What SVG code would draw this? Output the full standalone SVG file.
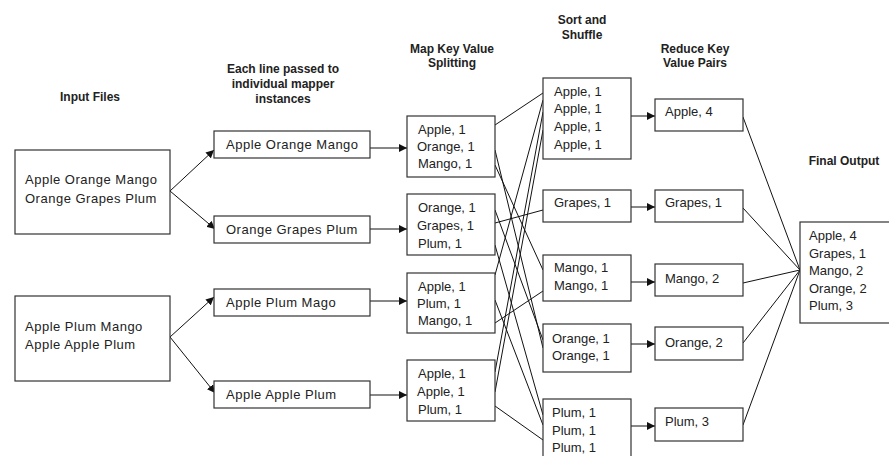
<svg xmlns="http://www.w3.org/2000/svg" width="889" height="456" viewBox="0 0 889 456">
<defs>
<marker id="ah" markerWidth="9" markerHeight="8" refX="8" refY="4" orient="auto" markerUnits="userSpaceOnUse">
<path d="M0,0 L8,4 L0,8 z" fill="#111"/>
</marker>
<style>
text{font-family:"Liberation Sans",Arial,sans-serif;fill:#222}
.t{font-size:13px}
.w{letter-spacing:0.5px}
.h{font-size:12px;font-weight:bold;text-anchor:middle}
rect{fill:#fff;stroke:#333;stroke-width:1.2}
.c line{stroke:#111;stroke-width:1}
.a{marker-end:url(#ah)}
</style>
</defs>
<rect x="0" y="0" width="889" height="456" style="stroke:none"/>
<g id="headers">
<text class="h" x="90" y="101">Input Files</text>
<text class="h" x="283" y="73">Each line passed to</text>
<text class="h" x="283" y="88">individual mapper</text>
<text class="h" x="283" y="103">instances</text>
<text class="h" x="452" y="53">Map Key Value</text>
<text class="h" x="452" y="67">Splitting</text>
<text class="h" x="582" y="24">Sort and</text>
<text class="h" x="582" y="39">Shuffle</text>
<text class="h" x="695" y="53">Reduce Key</text>
<text class="h" x="695" y="67">Value Pairs</text>
<text class="h" x="844" y="165">Final Output</text>
</g>
<g class="c" id="connectors">
<line class="a" x1="170" y1="191" x2="214" y2="150"/>
<line class="a" x1="170" y1="191" x2="215" y2="229"/>
<line class="a" x1="170" y1="337" x2="214" y2="297"/>
<line class="a" x1="170" y1="337" x2="215" y2="393"/>
<line class="a" x1="370" y1="148" x2="407" y2="148"/>
<line class="a" x1="370" y1="229" x2="407" y2="229"/>
<line class="a" x1="370" y1="301" x2="407" y2="301"/>
<line class="a" x1="370" y1="395" x2="407" y2="395"/>
<line x1="495" y1="125" x2="543" y2="93"/>
<line x1="495" y1="150" x2="543" y2="348"/>
<line x1="495" y1="165" x2="543" y2="270"/>
<line x1="495" y1="210" x2="543" y2="340"/>
<line x1="495" y1="223" x2="543" y2="210"/>
<line x1="495" y1="245" x2="543" y2="415"/>
<line x1="495" y1="275" x2="543" y2="100"/>
<line x1="495" y1="300" x2="543" y2="425"/>
<line x1="495" y1="323" x2="543" y2="291"/>
<line x1="495" y1="372" x2="543" y2="112"/>
<line x1="495" y1="392" x2="543" y2="130"/>
<line x1="495" y1="406" x2="543" y2="440"/>
<line class="a" x1="631" y1="116" x2="655" y2="116"/>
<line class="a" x1="631" y1="207" x2="655" y2="207"/>
<line class="a" x1="631" y1="282" x2="655" y2="282"/>
<line class="a" x1="631" y1="344" x2="655" y2="344"/>
<line class="a" x1="631" y1="426" x2="655" y2="426"/>
<line x1="743" y1="117" x2="800" y2="270"/>
<line x1="743" y1="208" x2="800" y2="270"/>
<line x1="743" y1="283" x2="800" y2="270"/>
<line x1="743" y1="343" x2="800" y2="270"/>
<line x1="743" y1="425" x2="800" y2="270"/>
</g>
<g id="input1"><rect x="15" y="150" width="155" height="84"/><text class="t w" x="25" y="184">Apple Orange Mango</text><text class="t w" x="25" y="203">Orange Grapes Plum</text></g>
<g id="input2"><rect x="15" y="296" width="155" height="85"/><text class="t w" x="25" y="331">Apple Plum Mango</text><text class="t w" x="25" y="349">Apple Apple Plum</text></g>
<g id="split1"><rect x="214" y="131" width="156" height="27"/><text class="t w" x="226" y="149">Apple Orange Mango</text></g>
<g id="split2"><rect x="214" y="216" width="156" height="27"/><text class="t w" x="226" y="234">Orange Grapes Plum</text></g>
<g id="split3"><rect x="214" y="289" width="156" height="27"/><text class="t w" x="226" y="307">Apple Plum Mago</text></g>
<g id="split4"><rect x="214" y="381" width="156" height="27"/><text class="t w" x="226" y="399">Apple Apple Plum</text></g>
<g id="map1"><rect x="407" y="116" width="88" height="61"/><text class="t" x="418" y="134">Apple, 1</text><text class="t" x="417" y="151">Orange, 1</text><text class="t" x="418" y="168">Mango, 1</text></g>
<g id="map2"><rect x="407" y="194" width="88" height="61"/><text class="t" x="418" y="212">Orange, 1</text><text class="t" x="417" y="230">Grapes, 1</text><text class="t" x="418" y="248">Plum, 1</text></g>
<g id="map3"><rect x="407" y="273" width="88" height="60"/><text class="t" x="418" y="291">Apple, 1</text><text class="t" x="417" y="308">Plum, 1</text><text class="t" x="418" y="325">Mango, 1</text></g>
<g id="map4"><rect x="407" y="360" width="88" height="61"/><text class="t" x="418" y="378">Apple, 1</text><text class="t" x="417" y="396">Apple, 1</text><text class="t" x="418" y="414">Plum, 1</text></g>
<g id="sort1"><rect x="543" y="78" width="88" height="81"/><text class="t" x="554" y="96">Apple, 1</text><text class="t" x="554" y="113">Apple, 1</text><text class="t" x="554" y="131">Apple, 1</text><text class="t" x="554" y="149">Apple, 1</text></g>
<g id="sort2"><rect x="543" y="190" width="88" height="32"/><text class="t" x="554" y="207">Grapes, 1</text></g>
<g id="sort3"><rect x="543" y="255" width="88" height="46"/><text class="t" x="554" y="272">Mango, 1</text><text class="t" x="554" y="290">Mango, 1</text></g>
<g id="sort4"><rect x="543" y="324" width="88" height="48"/><text class="t" x="552" y="343">Orange, 1</text><text class="t" x="552" y="360">Orange, 1</text></g>
<g id="sort5"><rect x="543" y="399" width="88" height="70"/><text class="t" x="552" y="417">Plum, 1</text><text class="t" x="552" y="435">Plum, 1</text><text class="t" x="552" y="452">Plum, 1</text></g>
<g id="reduce1"><rect x="655" y="99" width="88" height="32"/><text class="t" x="665" y="116">Apple, 4</text></g>
<g id="reduce2"><rect x="655" y="190" width="88" height="32"/><text class="t" x="665" y="207">Grapes, 1</text></g>
<g id="reduce3"><rect x="655" y="264" width="88" height="32"/><text class="t" x="665" y="283">Mango, 2</text></g>
<g id="reduce4"><rect x="655" y="327" width="88" height="33"/><text class="t" x="665" y="347">Orange, 2</text></g>
<g id="reduce5"><rect x="655" y="408" width="88" height="33"/><text class="t" x="665" y="426">Plum, 3</text></g>
<g id="final"><rect x="800" y="222" width="95" height="101"/><text class="t" x="809" y="240">Apple, 4</text><text class="t" x="809" y="258">Grapes, 1</text><text class="t" x="809" y="275">Mango, 2</text><text class="t" x="809" y="293">Orange, 2</text><text class="t" x="809" y="310">Plum, 3</text></g>
</svg>
